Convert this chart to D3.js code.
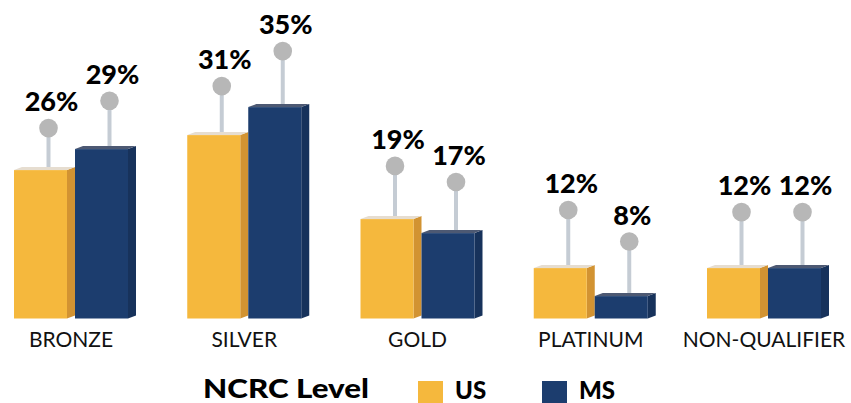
<!DOCTYPE html>
<html>
<head>
<meta charset="utf-8">
<script src="https://cdn.jsdelivr.net/npm/d3@7/dist/d3.min.js"></script>
<style>
  html, body { margin: 0; padding: 0; background: #ffffff; }
  svg { display: block; }
  text { font-family: Lato, "Open Sans", sans-serif; }
</style>
</head>
<body>
<svg id="chart" width="851" height="403"></svg>
<script>
// ---- data ----
const categories = ["BRONZE", "SILVER", "GOLD", "PLATINUM", "NON-QUALIFIER"];
const seriesNames = ["US", "MS"];
const usValues = [26, 31, 19, 12, 12];
const msValues = [29, 35, 17, 8, 12];
// height of the lollipop marker above each bar, in the same % units
const usMarker = [32.0, 38.0, 26.6, 20.3, 20.0];
const msMarker = [35.9, 43.0, 24.3, 15.8, 20.0];
const legendTitle = "NCRC Level";

// ---- styling ----
const colors = {
  US: { front: "#f5b83d", side: "#d29332", top: "#e6ddd0" },
  MS: { front: "#1c3d6e", side: "#17325b", top: "#4d5973" }
};
const barW = 53, depthX = 8, depthY = 3;

const svg = d3.select("#chart");

const x = d3.scalePoint().domain(categories).range([71, 764]);
const y = d3.scaleLinear().domain([4.8, 35]).range([318.5, 107.1]);

const rows = [];
categories.forEach((c, i) => {
  rows.push({ cat: c, s: "US", v: usValues[i], m: usMarker[i], off: -57 });
  rows.push({ cat: c, s: "MS", v: msValues[i], m: msMarker[i], off: 4 });
});

const base = y.domain()[0];
const mx = d => x(d.cat) + d.off + barW / 2 + 8;

// stems
svg.append("g").selectAll("line").data(rows).join("line")
  .attr("x1", mx).attr("x2", mx)
  .attr("y1", d => y(d.m))
  .attr("y2", d => y(d.v) - depthY + 1)
  .attr("stroke", "#c5ccd4")
  .attr("stroke-width", 4);

// 3D bars
const bars = svg.append("g").selectAll("g").data(rows).join("g");
bars.append("path") // side
  .attr("d", d => {
    const x1 = x(d.cat) + d.off + barW, t = y(d.v), b = y(base);
    return `M${x1},${t}L${x1 + depthX},${t - depthY}L${x1 + depthX},${b - depthY}L${x1},${b}Z`;
  })
  .attr("fill", d => colors[d.s].side);
bars.append("path") // top
  .attr("d", d => {
    const x0 = x(d.cat) + d.off, x1 = x0 + barW, t = y(d.v);
    return `M${x0},${t}L${x0 + depthX},${t - depthY}L${x1 + depthX},${t - depthY}L${x1},${t}Z`;
  })
  .attr("fill", d => colors[d.s].top);
bars.append("rect") // front
  .attr("x", d => x(d.cat) + d.off)
  .attr("y", d => y(d.v))
  .attr("width", barW)
  .attr("height", d => y(base) - y(d.v))
  .attr("fill", d => colors[d.s].front);

// marker circles
svg.append("g").selectAll("circle").data(rows).join("circle")
  .attr("cx", mx)
  .attr("cy", d => y(d.m))
  .attr("r", 9.3)
  .attr("fill", "#b7b7b7");

// value labels
svg.append("g").selectAll("text").data(rows).join("text")
  .attr("x", d => mx(d) + 3)
  .attr("y", d => y(d.m) - 17)
  .attr("text-anchor", "middle")
  .attr("font-size", 27)
  .attr("font-weight", 900)
  .attr("fill", "#000")
  .text(d => d.v + "%");

// category axis labels
svg.append("g").selectAll("text").data(categories).join("text")
  .attr("x", d => x(d))
  .attr("y", 347)
  .attr("text-anchor", "middle")
  .attr("font-size", 21)
  .attr("fill", "#111")
  .text(d => d);

// legend
const lg = svg.append("g");
lg.append("text")
  .attr("x", 203).attr("y", 398)
  .attr("font-size", 26).attr("font-weight", 900)
  .attr("textLength", 166).attr("lengthAdjust", "spacingAndGlyphs")
  .text(legendTitle);
const legendX = d3.scalePoint().domain(seriesNames).range([418, 542]);
const li = lg.selectAll("g.item").data(seriesNames).join("g").attr("class", "item")
  .attr("transform", d => `translate(${legendX(d)},0)`);
li.append("rect").attr("x", 0).attr("y", 381).attr("width", 25).attr("height", 25)
  .attr("fill", d => colors[d].front);
li.append("text").attr("x", 37).attr("y", 399)
  .attr("font-size", 24).attr("font-weight", 900)
  .text(d => d);
</script>
</body>
</html>
